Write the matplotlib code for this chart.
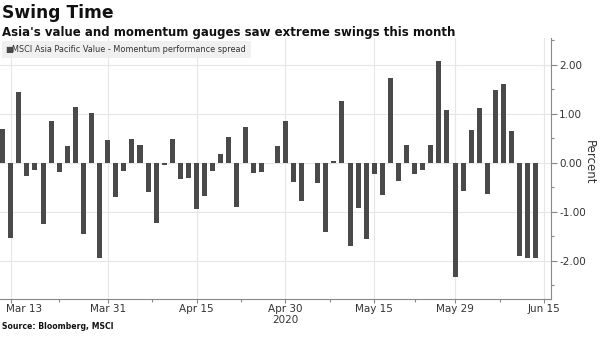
import matplotlib
matplotlib.use("Agg")
import matplotlib.pyplot as plt
import matplotlib.transforms as mtrans
import numpy as np
import pandas as pd
from matplotlib.ticker import FixedLocator, FuncFormatter

dates = pd.bdate_range("2020-03-12", "2020-06-12")
values = [
    0.68, -1.54, 1.45, -0.27, -0.14, -1.26, 0.85, -0.20, 0.34, 1.14,
    -1.46, 1.02, -1.94, 0.46, -0.70, -0.16, 0.49, 0.37, -0.59, -1.24,
    -0.05, 0.48, -0.33, -0.32, -0.95, -0.67, -0.16, 0.17, 0.52, -0.91,
    0.73, -0.22, -0.20, -0.01, 0.34, 0.85, -0.39, -0.78, -0.01, -0.42,
    -1.41, 0.04, 1.26, -1.69, -0.92, -1.55, -0.24, -0.65, 1.73, -0.38,
    0.36, -0.24, -0.14, 0.36, 2.07, 1.08, -2.33, -0.58, 0.67, 1.12,
    -0.63, 1.48, 1.61, 0.64, -1.91, -1.95, -1.95,
]
tick_labels = ["Mar 13", "Mar 31", "Apr 15", "Apr 30", "May 15", "May 29", "Jun 15"]
tick_dates = ["2020-03-13", "2020-03-31", "2020-04-15", "2020-04-30",
              "2020-05-15", "2020-05-29", "2020-06-15"]
y_ticks = [-2, -1, 0, 1, 2]

# positions of dates in trading-day index (Jun 15 lies one day beyond data)
all_days = pd.bdate_range("2020-03-12", "2020-06-15")
pos_map = {d.strftime("%Y-%m-%d"): i for i, d in enumerate(all_days)}
tick_pos = [pos_map[d] for d in tick_dates]
minor_pos = [(a + b) / 2 for a, b in zip(tick_pos[:-1], tick_pos[1:])]

fig = plt.figure(figsize=(6, 3.37), dpi=100)
ax = fig.add_axes([0.0, 0.113, 0.918, 0.775])

x = np.arange(len(values))
ax.bar(x, values, width=0.62, color="#4a4a4a", zorder=3)

ax.set_xlim(-0.33, 67.85)
ax.set_ylim(-2.78, 2.55)

ax.yaxis.tick_right()
ax.set_yticks(y_ticks)
ax.yaxis.set_minor_locator(FixedLocator([-2.5, -1.5, -0.5, 0.5, 1.5, 2.5]))
ax.yaxis.set_major_formatter(FuncFormatter(lambda v, p: f"{v:.2f}"))
ax.tick_params(axis="y", which="major", length=4, width=0.8, color="#888888",
               labelsize=7.5, pad=2, labelcolor="#333333")
ax.tick_params(axis="y", which="minor", length=2.5, width=0.8, color="#888888")
fig.text(0.982, 0.52, "Percent", rotation=-90, fontsize=8.5, color="#333333",
         ha="center", va="center")

ax.set_xticks(tick_pos)
ax.set_xticklabels(tick_labels)
ax.xaxis.set_minor_locator(FixedLocator(minor_pos))
ax.tick_params(axis="x", which="major", length=3, width=0.8, color="#888888",
               labelsize=7.5, pad=1, labelcolor="#333333")
ax.tick_params(axis="x", which="minor", length=2, width=0.8, color="#888888")
lbls = ax.get_xticklabels()
lbls[0].set_horizontalalignment("left")
offset = mtrans.ScaledTranslation(-5 / 100, 0, fig.dpi_scale_trans)
lbls[0].set_transform(lbls[0].get_transform() + offset)

ax.grid(True, which="major", color="#e6e6e6", linewidth=0.8, zorder=0)

for s in ["top", "left"]:
    ax.spines[s].set_visible(False)
ax.spines["right"].set_color("#888888")
ax.spines["bottom"].set_color("#888888")

# legend box
fig.patches.append(plt.Rectangle((0.003, 0.828), 0.415, 0.05, transform=fig.transFigure,
                                 facecolor="#f0f0f0", edgecolor="none", zorder=5))
fig.text(0.008, 0.853, "\u25a0", fontsize=6, color="#4a4a4a", va="center", zorder=6)
fig.text(0.02, 0.853, "MSCI Asia Pacific Value - Momentum performance spread",
         fontsize=5.9, color="#333333", va="center", zorder=6)

fig.text(0.003, 0.962, "Swing Time", fontsize=12.3, fontweight="bold", va="center", color="#111111")
fig.text(0.003, 0.905, "Asia's value and momentum gauges saw extreme swings this month",
         fontsize=8.45, fontweight="bold", va="center", color="#111111")
fig.text(0.476, 0.05, "2020", fontsize=7.5, ha="center", va="center", color="#333333")
fig.text(0.003, 0.03, "Source: Bloomberg, MSCI", fontsize=5.6, fontweight="bold",
         va="center", color="#111111")

fig.savefig("out.png", dpi=100)
